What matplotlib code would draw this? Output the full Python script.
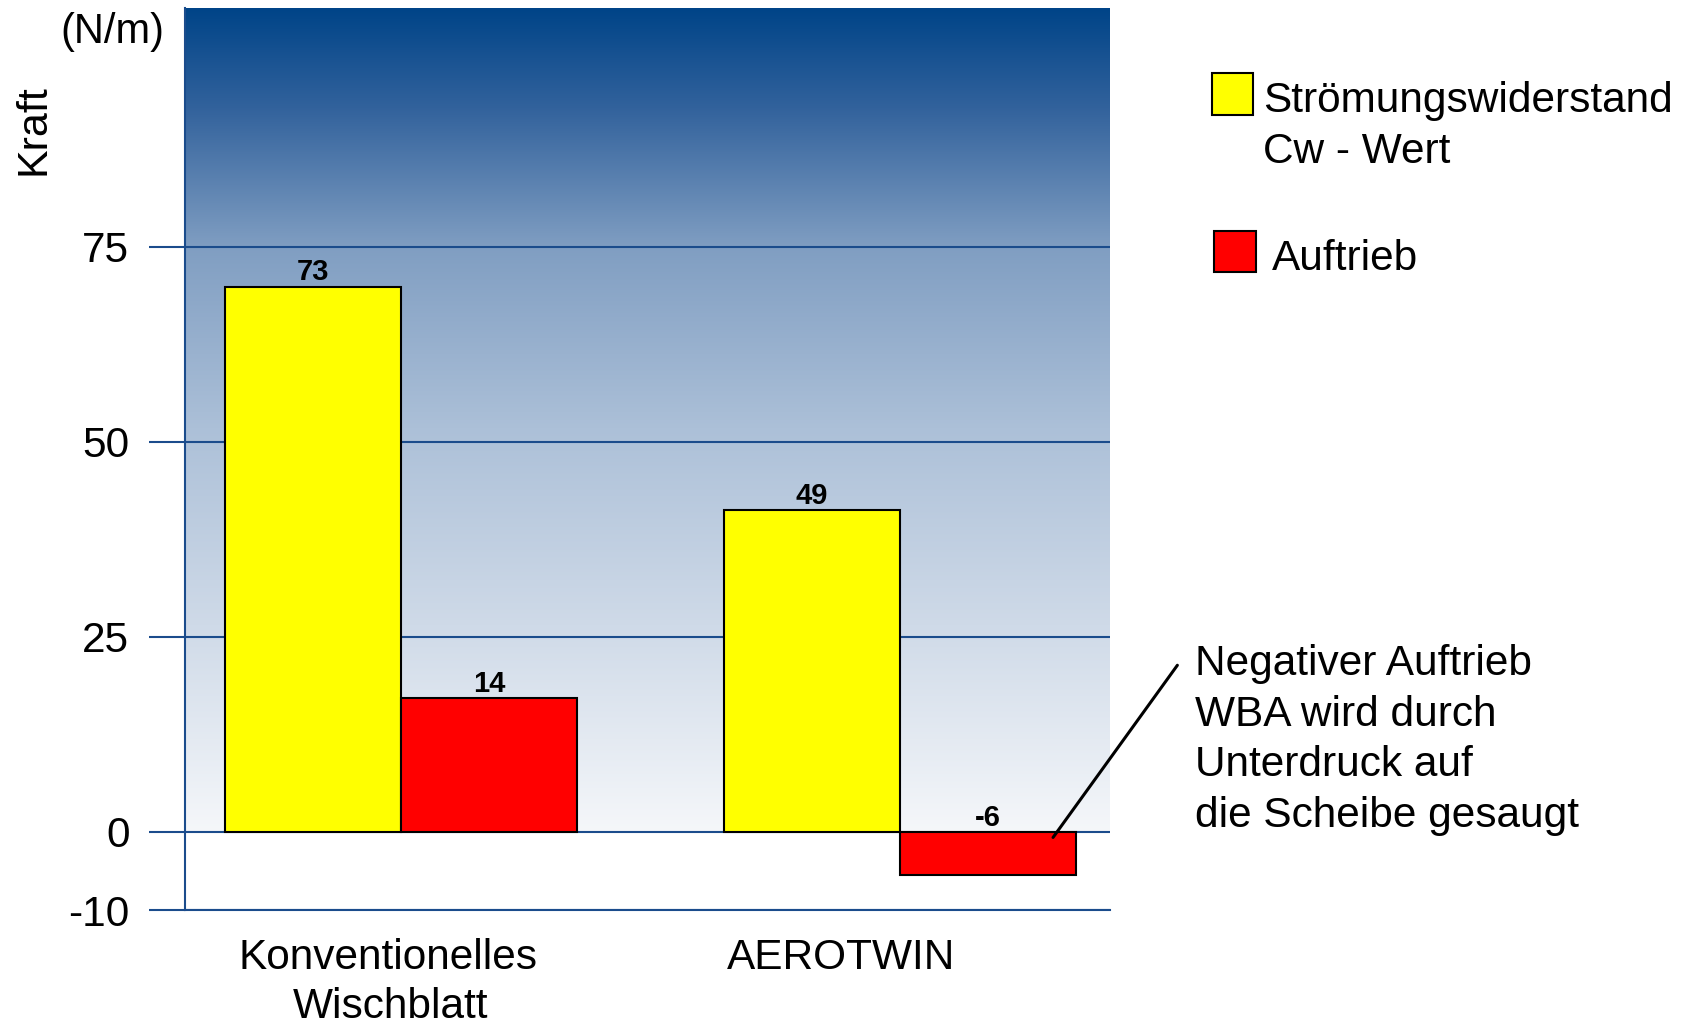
import numpy as np
import matplotlib
matplotlib.use("Agg")
import matplotlib.pyplot as plt
from matplotlib.patches import Rectangle

plt.rcParams['font.family'] = ['Liberation Sans', 'DejaVu Sans']

# ---------------- data ----------------
categories = ["Konventionelles\nWischblatt", "AEROTWIN"]
series_names = ["Strömungswiderstand\nCw - Wert", "Auftrieb"]
widerstand = [69.9, 41.2]          # bar heights as drawn
auftrieb = [17.2, -5.5]
widerstand_labels = ["73", "49"]   # printed value labels
auftrieb_labels = ["14", "-6"]
y_ticks = [-10, 0, 25, 50, 75]
y_ticklabels = ["-10", "0", "25", "50", "75"]
annotation_lines = ["Negativer Auftrieb", "WBA wird durch",
                    "Unterdruck auf", "die Scheibe gesaugt"]
y_unit = "(N/m)"
y_label = "Kraft"

# ---------------- layout ----------------
W, H = 1684, 1026
FS = 30.5
fig = plt.figure(figsize=(W / 100, H / 100), dpi=100)
ax = fig.add_axes([185 / W, 1 - 910 / H, (1110 - 185) / W, (910 - 8) / H])

def fp(x, y):
    return x / W, 1 - y / H

dark_blue = "#1b4c8c"
yellow = "#ffff00"
red = "#ff0000"
bar_w = 0.353
x_pos = np.arange(len(categories))
ylim = (-10, 105.6)
xlim = (-0.433, 1.421)
ax.set_xlim(*xlim)
ax.set_ylim(*ylim)

# gradient background (from 0 up to top)
stops_t = [0.0, 0.12, 0.29, 0.51, 0.75, 1.0]
stops_c = np.array([[0, 68, 136], [50, 98, 156], [128, 158, 194],
                    [172, 192, 216], [207, 218, 232], [245, 247, 250]]) / 255.0
n = 400
t = np.linspace(0, 1, n)
grad = np.stack([np.interp(t, stops_t, stops_c[:, k]) for k in range(3)], axis=-1)
grad = grad[:, None, :]
ax.imshow(grad, extent=[xlim[0], xlim[1], 0, ylim[1]], aspect='auto',
          origin='upper', zorder=-1, interpolation='bilinear')

# grid lines
ax.set_axisbelow(True)
ax.set_yticks(y_ticks)
ax.set_yticklabels(y_ticklabels, fontsize=FS)
ax.yaxis.grid(True, color=dark_blue, linewidth=1.5)
ax.tick_params(axis='y', direction='out', length=26, width=1.5,
               color=dark_blue, pad=14)
ax.yaxis.get_major_ticks()[0].tick1line.set_color('black')
ax.set_xticks([])
for s in ['top', 'right']:
    ax.spines[s].set_visible(False)
for s in ['left', 'bottom']:
    ax.spines[s].set_color(dark_blue)
    ax.spines[s].set_linewidth(1.5)

# bars
b1 = ax.bar(x_pos - bar_w / 2, widerstand, bar_w, color=yellow,
            edgecolor='black', linewidth=1.5, zorder=3)
b2 = ax.bar(x_pos + bar_w / 2, auftrieb, bar_w, color=red,
            edgecolor='black', linewidth=1.5, zorder=3)

for bars, labels in ((b1, widerstand_labels), (b2, auftrieb_labels)):
    for rect, lab in zip(bars, labels):
        top = max(rect.get_height(), 0) if rect.get_y() >= 0 else 0
        ax.annotate(lab, (rect.get_x() + rect.get_width() / 2, top),
                    xytext=(0, 4.5), textcoords='offset points',
                    ha='center', va='baseline', fontsize=21,
                    fontweight='bold', zorder=5)

# axis unit + label
fig.text(*fp(112, 43), y_unit, ha='center', va='baseline', fontsize=30)
fig.text(*fp(34, 130), y_label, ha='center', va='center', fontsize=31,
         rotation=90)

# category labels
cat_pos = [(388, 969), (841, 969)]
for cat, (cx, by) in zip(categories, cat_pos):
    for i, line in enumerate(cat.split("\n")):
        fig.text(*fp(cx + 3 * i, by + 49 * i), line, ha='center',
                 va='baseline', fontsize=FS)

# legend (manual)
leg_boxes = [(1212, 73, 1253, 115), (1214, 231, 1256, 272)]
leg_text = [(1263, 112), (1272, 270)]
for name, col, (x0, y0, x1, y1), (tx, ty) in zip(series_names, [yellow, red],
                                                 leg_boxes, leg_text):
    fig.add_artist(Rectangle(fp(x0, y1), (x1 - x0) / W, (y1 - y0) / H,
                             transform=fig.transFigure, facecolor=col,
                             edgecolor='black', linewidth=1.5))
    for i, line in enumerate(name.split("\n")):
        fig.text(*fp(tx, ty + 51 * i), line, ha='left', va='baseline',
                 fontsize=FS)

# annotation
ax.annotate("", xy=(x_pos[1] + bar_w * 0.86, auftrieb[1] * 0.18),
            xytext=fp(1179, 663), textcoords='figure fraction',
            arrowprops=dict(arrowstyle='-', color='black', lw=2.2),
            annotation_clip=False, zorder=6)
for i, line in enumerate(annotation_lines):
    fig.text(*fp(1195, 675 + 50.7 * i), line, ha='left', va='baseline',
             fontsize=FS)

fig.savefig("out.png", dpi=100)
